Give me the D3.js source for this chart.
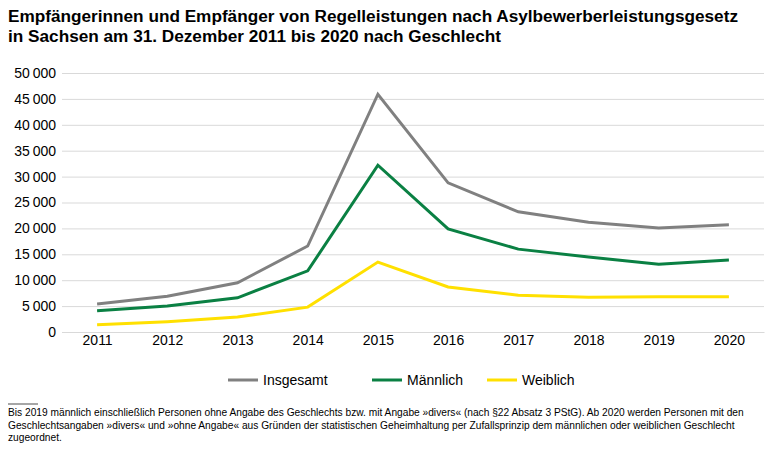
<!DOCTYPE html>
<html><head><meta charset="utf-8">
<script src="https://cdn.jsdelivr.net/npm/d3@7"></script>
<style>body{margin:0;background:#fff;font-family:"Liberation Sans",Arial,sans-serif}</style>
</head><body><svg id="c" width="779" height="453"></svg>
<script>
const years=["2011","2012","2013","2014","2015","2016","2017","2018","2019","2020"];
const insgesamt=[5400,6900,9500,16600,45900,28800,23200,21200,20100,20700];
const maennlich=[4100,5000,6600,11800,32200,19900,16000,14500,13100,13900];
const weiblich=[1400,2000,2900,4800,13500,8700,7100,6700,6800,6800];
const yTicks=[0,5000,10000,15000,20000,25000,30000,35000,40000,45000,50000];
const seriesNames=["Insgesamt","Männlich","Weiblich"];
const colors=["#808080","#0a8043","#ffe000"];
const svg=d3.select("#c");
const x=d3.scalePoint().domain(years).range([62,764]).padding(0.5);
const y=d3.scaleLinear().domain([0,50000]).range([332,73]);
const fmt=v=>v===0?"0":d3.format(",")(v).replace(/,/g,"\u2009");
svg.append("text").attr("x",8).attr("y",22).attr("font-weight","bold").attr("font-size",17.2).text("Empfängerinnen und Empfänger von Regelleistungen nach Asylbewerberleistungsgesetz");
svg.append("text").attr("x",8).attr("y",42).attr("font-weight","bold").attr("font-size",17.2).text("in Sachsen am 31. Dezember 2011 bis 2020 nach Geschlecht");
const ya=svg.append("g").attr("transform","translate(62,0)").call(d3.axisLeft(y).tickValues(yTicks).tickSize(-702).tickFormat(fmt));
ya.select(".domain").remove();
ya.selectAll(".tick line").attr("stroke","#d9d9d9");
ya.selectAll(".tick text").attr("x",-6).attr("font-size",14).attr("font-family","Liberation Sans, Arial").attr("fill","#000");
const xa=svg.append("g").attr("transform","translate(0,332)").call(d3.axisBottom(x).tickSize(0));
xa.select(".domain").attr("stroke","#d9d9d9");
xa.selectAll(".tick text").attr("dy",10).attr("font-size",14).attr("font-family","Liberation Sans, Arial").attr("fill","#000");
const line=d3.line().x((d,i)=>x(years[i])).y(d=>y(d));
[insgesamt,maennlich,weiblich].forEach((s,i)=>{
 svg.append("path").datum(s).attr("d",line).attr("fill","none").attr("stroke",colors[i]).attr("stroke-width",3);
});
const lx=[228,372,487];
seriesNames.forEach((n,i)=>{
 svg.append("line").attr("x1",lx[i]).attr("x2",lx[i]+30).attr("y1",380).attr("y2",380).attr("stroke",colors[i]).attr("stroke-width",3);
 svg.append("text").attr("x",lx[i]+35).attr("y",385).attr("font-size",14).text(n);
});
svg.append("line").attr("x1",8).attr("x2",38).attr("y1",404).attr("y2",404).attr("stroke","#000").attr("stroke-width",0.7);
const foot=["Bis 2019 männlich einschließlich Personen ohne Angabe des Geschlechts bzw. mit Angabe »divers« (nach §22 Absatz 3 PStG). Ab 2020 werden Personen mit den","Geschlechtsangaben »divers« und »ohne Angabe« aus Gründen der statistischen Geheimhaltung per Zufallsprinzip dem männlichen oder weiblichen Geschlecht","zugeordnet."];
foot.forEach((t,i)=>svg.append("text").attr("x",8).attr("y",416+i*12.5).attr("font-size",10.2).text(t));
</script></body></html>
